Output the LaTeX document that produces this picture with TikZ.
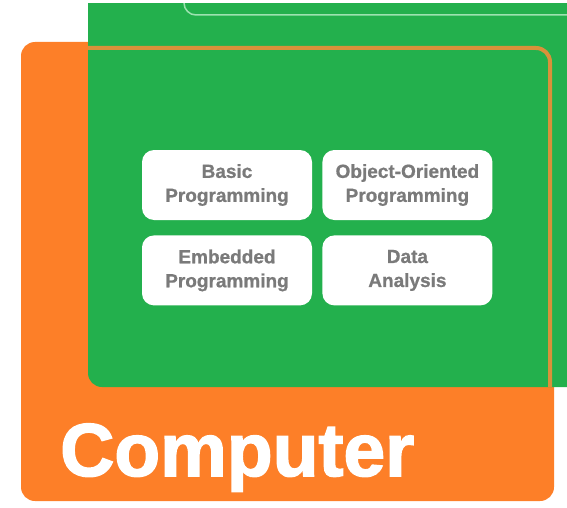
\documentclass[tikz,border=0pt]{standalone}
\usepackage{fontspec}
\setmainfont{Liberation Sans}
\newfontfamily\heavyfont{Liberation Sans}[BoldFeatures={FakeBold=2}]
\newfontfamily\semifont{Liberation Sans}[BoldFeatures={FakeBold=0.8}]
\usetikzlibrary{positioning}
\definecolor{boardgreen}{HTML}{23B04D}
\definecolor{boardorange}{HTML}{FD7F28}
\definecolor{rimorange}{HTML}{D9913A}
\definecolor{seamgreen}{HTML}{9CE2B0}
\definecolor{labelgray}{HTML}{7A7A7A}
\tikzset{%
	topic/.style={fill=white, rectangle, rounded corners=12pt, minimum width=170pt,%
		minimum height=70pt, inner sep=0pt, align=center, text=labelgray,%
		font=\semifont\fontsize{19}{24}\selectfont\bfseries},
	heading/.style={text=white, inner sep=0pt, font=\heavyfont\fontsize{75}{80}\selectfont\bfseries},
	rim/.style={draw=rimorange, line width=4pt, rounded corners=14pt},
	seam/.style={draw=seamgreen, line width=1.5pt, rounded corners=12pt}
}

\begin{document}
\begin{tikzpicture}[x=1pt, y=1pt]
	\useasboundingbox (0,0) rectangle (567,507);
	\fill[boardorange, rounded corners=14pt] (21,6) rectangle (554,465);
	\begin{scope}
		\clip (0,0) rectangle (567,503);
		\fill[boardgreen, rounded corners=14pt] (88,120) rectangle (600,540);
		\draw[seam] (184,520) -- (184,492) -- (600,492);
	\end{scope}
	\draw[rim] (88,459) -- (550,459) -- (550,120);

	\node[topic] (basic) at (227,322) {Basic\\Programming};
	\node[topic, right=10pt of basic] (oop) {Object-Oriented\\Programming};
	\node[topic, below=15pt of basic] (embedded) {Embedded\\Programming};
	\node[topic, below=15pt of oop] (data) {Data\\Analysis};

	\node[heading, anchor=base west] (computer) at (60,31) {Computer};
\end{tikzpicture}
\end{document}
